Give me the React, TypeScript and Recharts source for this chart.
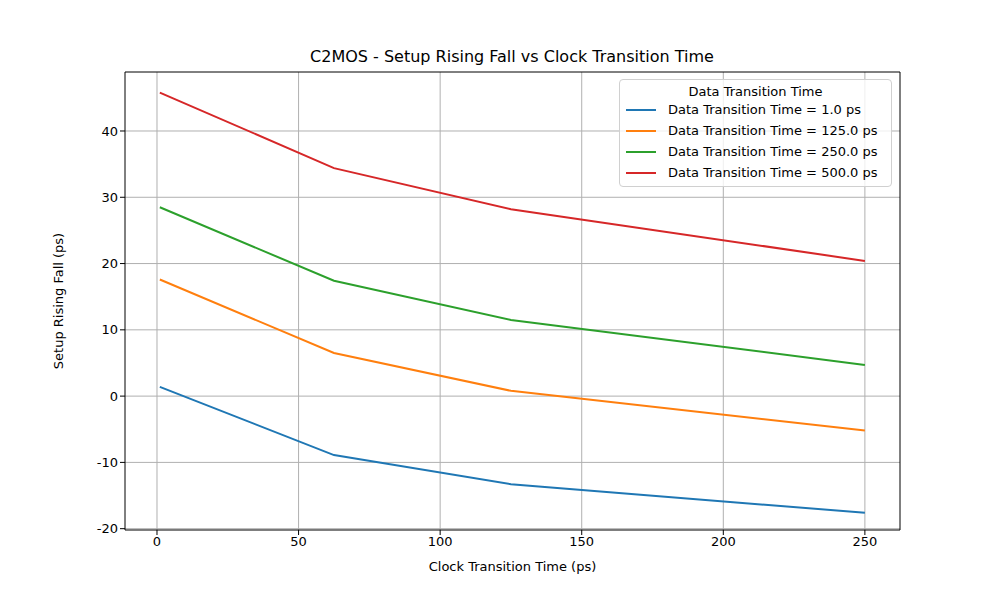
import { LineChart, Line, XAxis, YAxis, CartesianGrid } from "recharts";

const clockTimes = [1, 62.5, 125, 250];
const setup1 = [1.4, -8.9, -13.3, -17.6];
const setup125 = [17.6, 6.5, 0.8, -5.2];
const setup250 = [28.5, 17.4, 11.5, 4.7];
const setup500 = [45.8, 34.4, 28.2, 20.4];
const xTicks = [0, 50, 100, 150, 200, 250];
const yTicks = [-20, -10, 0, 10, 20, 30, 40];

const series = [
  { key: "s1", label: "Data Transition Time = 1.0 ps", color: "#1f77b4", vals: setup1 },
  { key: "s125", label: "Data Transition Time = 125.0 ps", color: "#ff7f0e", vals: setup125 },
  { key: "s250", label: "Data Transition Time = 250.0 ps", color: "#2ca02c", vals: setup250 },
  { key: "s500", label: "Data Transition Time = 500.0 ps", color: "#d62728", vals: setup500 },
];

const data = clockTimes.map((x, i) => {
  const row: Record<string, number> = { x };
  series.forEach((s) => (row[s.key] = s.vals[i]));
  return row;
});

const font = "DejaVu Sans, sans-serif";
const tick = { fill: "#000", fontSize: 13, fontFamily: font };

export default function App() {
  return (
    <div style={{ position: "absolute", left: 0, top: 0, width: 1000, height: 600, background: "#fff", fontFamily: font }}>
      <div style={{ position: "absolute", top: 47, width: 1000, left: 12, textAlign: "center", fontSize: 16 }}>
        C2MOS - Setup Rising Fall vs Clock Transition Time
      </div>
      <LineChart width={1000} height={600} data={data} margin={{ top: 72, right: 100, bottom: 0, left: 0 }}>
        <CartesianGrid stroke="#b0b0b0" strokeWidth={1} horizontalValues={yTicks} verticalValues={xTicks} />
        <XAxis
          dataKey="x"
          type="number"
          domain={[-11.3, 262.4]}
          ticks={xTicks}
          height={70}
          tick={tick}
          tickSize={5}
          stroke="#000"
          label={{ value: "Clock Transition Time (ps)", position: "insideTop", offset: 32, fill: "#000", fontSize: 13, fontFamily: font }}
        />
        <YAxis
          type="number"
          domain={[-20.2, 48.9]}
          ticks={yTicks}
          width={125}
          tick={tick}
          tickSize={5}
          stroke="#000"
          label={{ value: "Setup Rising Fall (ps)", angle: -90, position: "insideLeft", offset: 58, fill: "#000", fontSize: 13, fontFamily: font, style: { textAnchor: "middle" } }}
        />
        <line x1={900} y1={72} x2={900} y2={530} stroke="#000" />
        <line x1={125} y1={72} x2={900} y2={72} stroke="#000" />
        {series.map((s) => (
          <Line key={s.key} dataKey={s.key} stroke={s.color} strokeWidth={2} dot={false} isAnimationActive={false} />
        ))}
      </LineChart>
      <div style={{ position: "absolute", left: 619, top: 79, width: 273, height: 108, border: "1px solid #d0d0d0", borderRadius: 4, background: "rgba(255,255,255,0.8)", fontSize: 13, boxSizing: "border-box" }}>
        <div style={{ textAlign: "center", marginTop: 4 }}>Data Transition Time</div>
        {series.map((s) => (
          <div key={s.key} style={{ display: "flex", alignItems: "center", height: 21, marginLeft: 6 }}>
            <span style={{ display: "inline-block", width: 30, height: 2, background: s.color, marginRight: 12 }} />
            {s.label}
          </div>
        ))}
      </div>
    </div>
  );
}
